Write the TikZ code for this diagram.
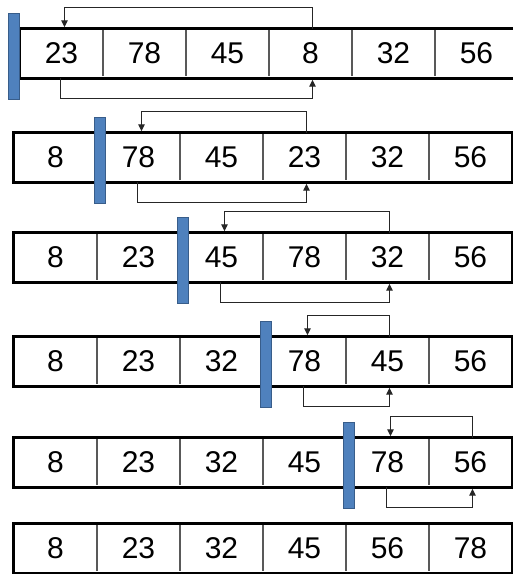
\documentclass[tikz,border=0pt]{standalone}
\usepackage{fontspec}
\setmainfont{Liberation Sans}
\usetikzlibrary{arrows.meta,positioning,calc}
\definecolor{barblue}{HTML}{4F81BD}
\definecolor{baredge}{HTML}{385D8A}
\tikzset{
  sort/cell/.style={minimum width=83pt, minimum height=49pt, inner sep=0pt, font=\fontsize{30}{32}\selectfont},
  sort/frame/.style={line width=3pt},
  sort/divider/.style={line width=1.8pt, draw=black!65},
  sort/wall/.style={draw=baredge, fill=barblue, line width=1pt, minimum width=11pt, minimum height=86pt, inner sep=0pt},
  sort/swap/.style={line width=1.1pt, draw=black!85, -{Triangle[length=7pt,width=6.5pt]}, shorten >=1.5pt}
}

\begin{document}
\begin{tikzpicture}[x=1pt, y=-1pt]
  \useasboundingbox (0,0) rectangle (513,574);
  \clip (0,0) rectangle (513,574);

  % one row of the array per pass
  \foreach \r/\x/\y/\vals in {1/20/29/{23,78,45,8,32,56},
                              2/14/133/{8,78,45,23,32,56},
                              3/14/233/{8,23,45,78,32,56},
                              4/14/337/{8,23,32,78,45,56},
                              5/14/438/{8,23,32,45,78,56},
                              6/14/524/{8,23,32,45,56,78}}{
    \foreach \v [count=\c] in \vals
      \node[sort/cell] (r\r c\c) at (\x+83*\c-41.5, \y+24.5) {\v};
    \foreach \c in {1,...,5}
      \draw[sort/divider] ([yshift=-1pt]r\r c\c.north east) -- ([yshift=2pt]r\r c\c.south east);
    \draw[sort/frame] (r\r c1.north west) rectangle (r\r c6.south east);
  }

  % sorted / unsorted boundary
  \foreach \r/\c/\dx in {1/1/-5.5, 2/2/3, 3/3/3, 4/4/3, 5/5/3}
    \node[sort/wall] (wall\r) at ($(r\r c\c.west)+(\dx,2.5)$) {};

  % swap of the minimum with the first unsorted item
  \foreach \r/\s/\d in {1/4/1, 2/4/2, 3/5/3, 4/5/4, 5/6/5}{
    \draw[sort/swap] ([xshift=2pt]r\r c\s.north) -- ++(0,-21) -| ([xshift=3pt]r\r c\d.north);
    \draw[sort/swap] ([xshift=-1pt]r\r c\d.south) -- ++(0,20) -| ([xshift=2pt]r\r c\s.south);
  }
\end{tikzpicture}
\end{document}
